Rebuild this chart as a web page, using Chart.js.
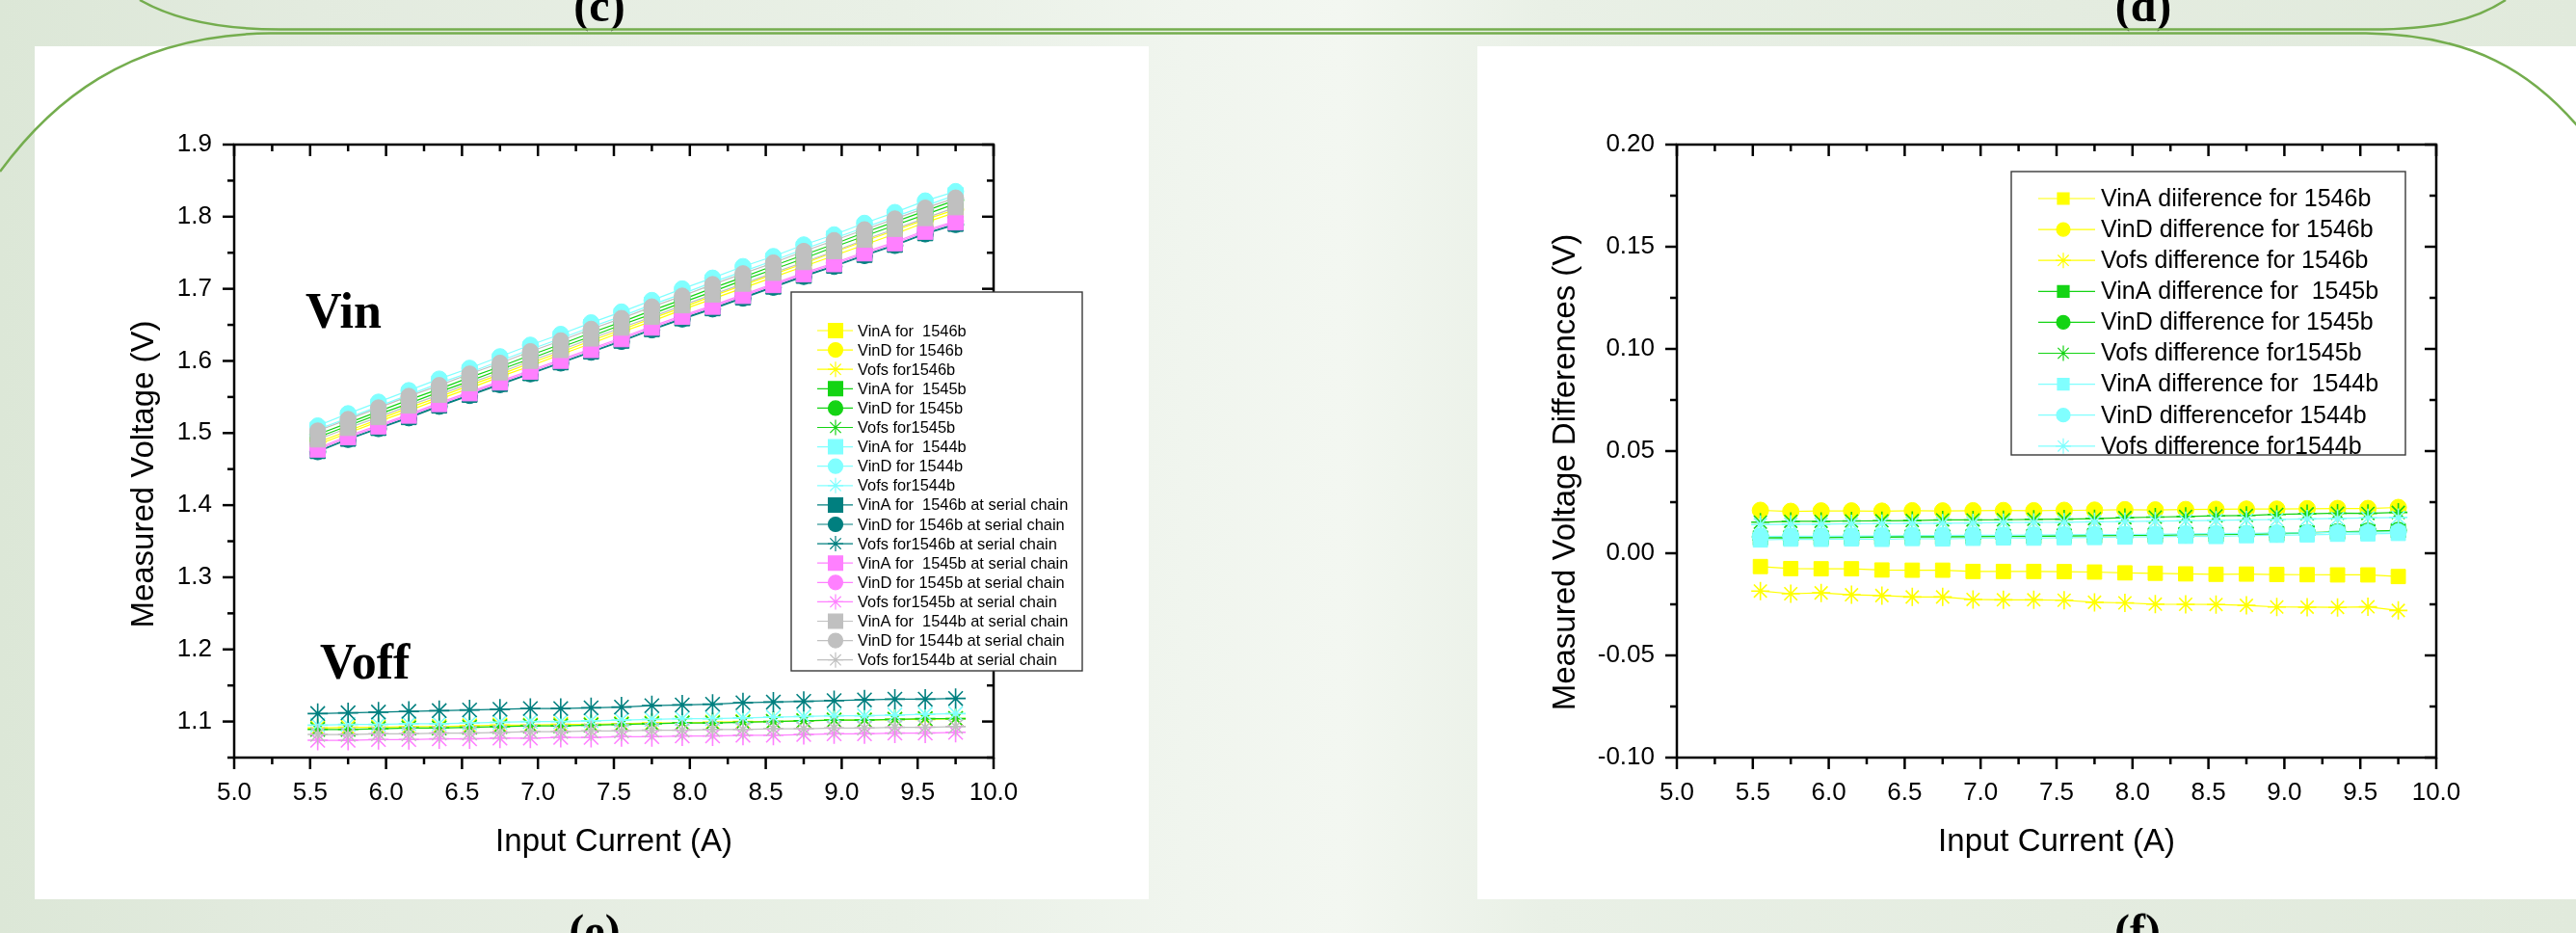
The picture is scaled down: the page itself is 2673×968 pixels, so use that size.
<!DOCTYPE html>
<html><head><meta charset="utf-8">
<script src="https://cdn.jsdelivr.net/npm/chart.js@4.4.1/dist/chart.umd.min.js"></script>
<style>
html,body{margin:0;padding:0;width:2673px;height:968px;overflow:hidden;}
body{position:relative;background:linear-gradient(90deg,#dce7d7 0%,#e3ebdf 12%,#e9f0e6 35%,#f0f5ee 46%,#f3f7f1 52%,#e9f0e6 60%,#e4ece0 80%,#e1eadc 100%);}
.panel{position:absolute;background:#fff;}
svg.deco{position:absolute;left:0;top:0;pointer-events:none;}
</style></head>
<body>
<div class="panel" style="left:36px;top:48px;width:1156px;height:885px;"><canvas id="c1" width="1156" height="885"></canvas></div>
<div class="panel" style="left:1533px;top:48px;width:1140px;height:885px;"><canvas id="c2" width="1140" height="885"></canvas></div>
<svg class="deco" width="2673" height="968" viewBox="0 0 2673 968">
  <g font-family="'Liberation Serif','Times New Roman',serif" font-weight="bold" font-size="48" fill="#000" text-anchor="middle">
    <text x="622" y="22">(c)</text>
    <text x="2224" y="22">(d)</text>
    <text x="617" y="982">(e)</text>
    <text x="2218" y="982">(f)</text>
  </g>
  <g fill="none" stroke="#74ad4e" stroke-width="2.5">
    <path d="M 145 0 C 180 20, 225 30.5, 290 30.5 L 2460 30.5 C 2530 30.5, 2570 20, 2600 0"/>
    <path d="M 0 178 C 50 110, 130 36, 280 34.5 L 2455 34.5 C 2560 36, 2630 70, 2690 150"/>
  </g>
</svg>
<script>
// ---------- data ----------
const current = [5.55,5.75,5.95,6.15,6.35,6.55,6.75,6.95,7.15,7.35,7.55,7.75,7.95,8.15,8.35,8.55,8.75,8.95,9.15,9.35,9.55,9.75];

const xTicks = [5.0,5.5,6.0,6.5,7.0,7.5,8.0,8.5,9.0,9.5,10.0];
const xMinorTicks = [5.25,5.75,6.25,6.75,7.25,7.75,8.25,8.75,9.25,9.75];
const yTicksLeft = [1.1,1.2,1.3,1.4,1.5,1.6,1.7,1.8,1.9];
const yMinorLeft = [1.05,1.15,1.25,1.35,1.45,1.55,1.65,1.75,1.85];
const yTicksRight = [-0.10,-0.05,0.00,0.05,0.10,0.15,0.20];
const yMinorRight = [-0.075,-0.025,0.025,0.075,0.125,0.175];

// left panel: measured voltages
const vinA1546 = [1.484,1.500,1.516,1.531,1.547,1.562,1.578,1.593,1.609,1.624,1.640,1.655,1.671,1.686,1.701,1.716,1.731,1.746,1.761,1.776,1.792,1.806];
const vinD1546 = [1.487,1.503,1.519,1.535,1.550,1.566,1.581,1.597,1.612,1.628,1.643,1.659,1.674,1.690,1.705,1.720,1.735,1.751,1.766,1.781,1.796,1.810];
const vofs1546 = [1.091,1.092,1.092,1.093,1.093,1.094,1.095,1.095,1.096,1.096,1.097,1.098,1.098,1.099,1.100,1.100,1.101,1.102,1.102,1.103,1.103,1.104];
const vinA1545 = [1.494,1.510,1.526,1.541,1.557,1.572,1.588,1.603,1.619,1.634,1.650,1.665,1.681,1.696,1.712,1.727,1.742,1.758,1.773,1.788,1.803,1.818];
const vinD1545 = [1.498,1.514,1.530,1.546,1.561,1.577,1.592,1.608,1.623,1.639,1.654,1.670,1.685,1.701,1.716,1.732,1.747,1.762,1.778,1.793,1.808,1.823];
const vofs1545 = [1.089,1.089,1.090,1.091,1.091,1.092,1.093,1.094,1.094,1.095,1.096,1.097,1.098,1.098,1.099,1.100,1.101,1.102,1.102,1.103,1.104,1.104];
const vinA1544 = [1.505,1.521,1.537,1.553,1.569,1.584,1.600,1.616,1.631,1.647,1.662,1.678,1.693,1.709,1.724,1.739,1.755,1.770,1.785,1.800,1.815,1.830];
const vinD1544 = [1.510,1.527,1.543,1.559,1.575,1.590,1.606,1.622,1.637,1.653,1.668,1.684,1.700,1.715,1.731,1.745,1.761,1.775,1.791,1.806,1.822,1.835];
const vofs1544 = [1.095,1.096,1.096,1.097,1.097,1.098,1.099,1.100,1.100,1.101,1.102,1.103,1.104,1.104,1.105,1.106,1.107,1.108,1.108,1.109,1.110,1.111];
const vinA1546s = [1.475,1.492,1.507,1.522,1.538,1.553,1.568,1.583,1.598,1.613,1.628,1.644,1.659,1.673,1.688,1.703,1.718,1.732,1.747,1.761,1.777,1.790];
const vinD1546s = [1.474,1.491,1.506,1.521,1.537,1.552,1.567,1.582,1.597,1.612,1.627,1.643,1.658,1.672,1.687,1.702,1.717,1.731,1.746,1.760,1.776,1.789];
const vofs1546s = [1.111,1.112,1.113,1.114,1.115,1.116,1.117,1.118,1.118,1.119,1.120,1.122,1.123,1.124,1.126,1.127,1.128,1.129,1.130,1.131,1.131,1.132];
const vinA1545s = [1.477,1.494,1.509,1.524,1.540,1.555,1.570,1.585,1.600,1.615,1.630,1.646,1.661,1.675,1.690,1.705,1.720,1.734,1.749,1.763,1.779,1.792];
const vinD1545s = [1.479,1.496,1.511,1.526,1.542,1.557,1.572,1.587,1.602,1.617,1.632,1.648,1.663,1.677,1.692,1.707,1.722,1.736,1.751,1.765,1.781,1.794];
const vofs1545s = [1.074,1.074,1.075,1.075,1.076,1.076,1.077,1.077,1.078,1.078,1.079,1.079,1.080,1.080,1.081,1.081,1.082,1.083,1.083,1.084,1.084,1.085];
const vinA1544s = [1.491,1.507,1.522,1.538,1.553,1.569,1.584,1.600,1.615,1.631,1.646,1.661,1.677,1.692,1.707,1.722,1.737,1.752,1.768,1.783,1.798,1.813];
const vinD1544s = [1.503,1.519,1.535,1.551,1.566,1.582,1.597,1.613,1.628,1.644,1.659,1.675,1.690,1.706,1.721,1.736,1.752,1.767,1.782,1.797,1.812,1.826];
const vofs1544s = [1.082,1.082,1.083,1.083,1.084,1.084,1.085,1.086,1.086,1.087,1.087,1.088,1.088,1.089,1.089,1.090,1.090,1.091,1.091,1.092,1.092,1.093];

// right panel: differences
const dVinA1546 = [-0.0065,-0.0075,-0.0076,-0.0076,-0.0082,-0.0083,-0.0083,-0.0089,-0.0089,-0.0089,-0.0090,-0.0092,-0.0096,-0.0098,-0.0101,-0.0103,-0.0102,-0.0104,-0.0105,-0.0106,-0.0106,-0.0114];
const dVinD1546 = [0.0210,0.0205,0.0207,0.0207,0.0206,0.0208,0.0207,0.0208,0.0209,0.0208,0.0210,0.0211,0.0213,0.0212,0.0214,0.0215,0.0216,0.0216,0.0218,0.0219,0.0219,0.0224];
const dVofs1546 = [-0.0185,-0.0198,-0.0194,-0.0203,-0.0207,-0.0214,-0.0214,-0.0226,-0.0228,-0.0228,-0.0230,-0.0240,-0.0243,-0.0249,-0.0250,-0.0251,-0.0255,-0.0263,-0.0264,-0.0265,-0.0262,-0.0280];
const dVinA1545 = [0.0075,0.0075,0.0076,0.0077,0.0078,0.0079,0.0079,0.0081,0.0082,0.0082,0.0084,0.0085,0.0087,0.0088,0.0090,0.0091,0.0093,0.0095,0.0099,0.0103,0.0106,0.0110];
const dVinD1545 = [0.0080,0.0079,0.0080,0.0081,0.0082,0.0083,0.0083,0.0084,0.0085,0.0086,0.0087,0.0088,0.0089,0.0090,0.0092,0.0093,0.0095,0.0097,0.0101,0.0105,0.0108,0.0112];
const dVofs1545 = [0.0152,0.0156,0.0156,0.0158,0.0159,0.0160,0.0163,0.0163,0.0164,0.0166,0.0167,0.0169,0.0174,0.0177,0.0180,0.0183,0.0185,0.0190,0.0193,0.0196,0.0195,0.0200];
const dVinA1544 = [0.0065,0.0069,0.0068,0.0070,0.0068,0.0072,0.0070,0.0073,0.0075,0.0074,0.0076,0.0077,0.0079,0.0081,0.0083,0.0082,0.0086,0.0088,0.0090,0.0093,0.0095,0.0097];
const dVinD1544 = [0.0082,0.0083,0.0083,0.0084,0.0085,0.0086,0.0087,0.0088,0.0088,0.0089,0.0090,0.0091,0.0092,0.0093,0.0095,0.0096,0.0097,0.0099,0.0100,0.0102,0.0103,0.0105];
const dVofs1544 = [0.0140,0.0142,0.0142,0.0144,0.0145,0.0146,0.0147,0.0148,0.0150,0.0151,0.0152,0.0154,0.0155,0.0157,0.0159,0.0161,0.0163,0.0165,0.0168,0.0170,0.0173,0.0175];

// ---------- styles ----------
const YEL = '#ffff00', GRN = '#14d414', CYN = '#80ffff', TEAL = '#007f7f', PINK = '#ff80ff', GRAY = '#c0c0c0';

const leftSeries = [
  ['VinA for  1546b', vinA1546, YEL, 'rect'],
  ['VinD for 1546b', vinD1546, YEL, 'circle'],
  ['Vofs for1546b', vofs1546, YEL, 'star'],
  ['VinA for  1545b', vinA1545, GRN, 'rect'],
  ['VinD for 1545b', vinD1545, GRN, 'circle'],
  ['Vofs for1545b', vofs1545, GRN, 'star'],
  ['VinA for  1544b', vinA1544, CYN, 'rect'],
  ['VinD for 1544b', vinD1544, CYN, 'circle'],
  ['Vofs for1544b', vofs1544, CYN, 'star'],
  ['VinA for  1546b at serial chain', vinA1546s, TEAL, 'rect'],
  ['VinD for 1546b at serial chain', vinD1546s, TEAL, 'circle'],
  ['Vofs for1546b at serial chain', vofs1546s, TEAL, 'star'],
  ['VinA for  1545b at serial chain', vinA1545s, PINK, 'rect'],
  ['VinD for 1545b at serial chain', vinD1545s, PINK, 'circle'],
  ['Vofs for1545b at serial chain', vofs1545s, PINK, 'star'],
  ['VinA for  1544b at serial chain', vinA1544s, GRAY, 'rect'],
  ['VinD for 1544b at serial chain', vinD1544s, GRAY, 'circle'],
  ['Vofs for1544b at serial chain', vofs1544s, GRAY, 'star']
];
const rightSeries = [
  ['VinA diiference for 1546b', dVinA1546, YEL, 'rect'],
  ['VinD difference for 1546b', dVinD1546, YEL, 'circle'],
  ['Vofs difference for 1546b', dVofs1546, YEL, 'star'],
  ['VinA difference for  1545b', dVinA1545, GRN, 'rect'],
  ['VinD difference for 1545b', dVinD1545, GRN, 'circle'],
  ['Vofs difference for1545b', dVofs1545, GRN, 'star'],
  ['VinA difference for  1544b', dVinA1544, CYN, 'rect'],
  ['VinD differencefor 1544b', dVinD1544, CYN, 'circle'],
  ['Vofs difference for1544b', dVofs1544, CYN, 'star']
];

const FONT = "'Liberation Sans', Arial, Helvetica, sans-serif";

function makeDatasets(series, radii) {
  return series.map(([label, vals, color, marker], i) => ({
    label,
    data: current.map((x, k) => ({x, y: vals[k]})),
    borderColor: color,
    backgroundColor: color,
    pointBackgroundColor: color,
    pointBorderColor: color,
    borderWidth: 1.2,
    pointStyle: marker,
    pointRadius: radii[marker],
    pointBorderWidth: marker === 'star' ? 1.6 : 1,
    pointHoverRadius: radii[marker],
    tension: 0,
    order: -i,
    _marker: marker
  }));
}

const framePlugin = {
  id: 'frame',
  afterDatasetsDraw(chart) {
    const o = chart.options.plugins.frame;
    const {ctx, chartArea: a} = chart;
    const xs = chart.scales.x, ys = chart.scales.y;
    ctx.save();
    ctx.strokeStyle = '#000';
    ctx.lineWidth = 2.5;
    ctx.lineCap = 'butt';
    const seg = (x1, y1, x2, y2) => { ctx.beginPath(); ctx.moveTo(x1, y1); ctx.lineTo(x2, y2); ctx.stroke(); };
    const MAJ = 12, MIN = 7;
    o.xMajor.forEach(v => { const p = xs.getPixelForValue(v); seg(p, a.bottom, p, a.bottom + MAJ); seg(p, a.top, p, a.top + MAJ); });
    o.xMinor.forEach(v => { const p = xs.getPixelForValue(v); seg(p, a.bottom, p, a.bottom + MIN); seg(p, a.top, p, a.top + MIN); });
    o.yMajor.forEach(v => { const p = ys.getPixelForValue(v); seg(a.left - MAJ, p, a.left, p); seg(a.right - MAJ, p, a.right, p); });
    o.yMinor.forEach(v => { const p = ys.getPixelForValue(v); seg(a.left - MIN, p, a.left, p); seg(a.right - MIN, p, a.right, p); });
    ctx.strokeRect(a.left, a.top, a.right - a.left, a.bottom - a.top);
    // axis titles
    ctx.fillStyle = '#000';
    ctx.font = '33px ' + FONT;
    ctx.textAlign = 'center';
    ctx.textBaseline = 'middle';
    ctx.fillText(o.xTitle, (a.left + a.right) / 2, o.xTitleY);
    ctx.save();
    ctx.translate(o.yTitleX, o.yTitleY);
    ctx.rotate(-Math.PI / 2);
    ctx.fillText(o.yTitle, 0, 0);
    ctx.restore();
    // free text notes
    (o.notes || []).forEach(n => {
      ctx.font = n.font; ctx.textAlign = 'left'; ctx.textBaseline = 'alphabetic';
      ctx.fillText(n.text, n.x, n.y);
    });
    ctx.restore();
  },
  afterDraw(chart) {
    const L = chart.options.plugins.frame.legend;
    const {ctx} = chart;
    ctx.save();
    ctx.fillStyle = '#fff';
    ctx.fillRect(L.x, L.y, L.w, L.h);
    ctx.strokeStyle = '#3a3a3a';
    ctx.lineWidth = 1.4;
    ctx.strokeRect(L.x, L.y, L.w, L.h);
    chart.data.datasets.forEach((ds, i) => {
      const cy = L.first + i * L.step;
      ctx.strokeStyle = ds.borderColor;
      ctx.lineWidth = 1.2;
      ctx.beginPath(); ctx.moveTo(L.lineX1, cy); ctx.lineTo(L.lineX2, cy); ctx.stroke();
      ctx.fillStyle = ds.pointBackgroundColor;
      ctx.strokeStyle = ds.pointBorderColor;
      Chart.helpers.drawPoint(ctx, {pointStyle: ds.pointStyle, rotation: 0, radius: L.radii[ds._marker], borderWidth: ds._marker === 'star' ? 1.4 : 1}, L.markX, cy);
      ctx.fillStyle = '#000';
      ctx.font = L.font;
      ctx.textAlign = 'left';
      ctx.textBaseline = 'middle';
      ctx.fillText(ds.label, L.textX, cy + 1);
    });
    ctx.restore();
  }
};

function makeChart(id, series, radii, yMin, yMax, yTicks, yMinor, yDigits, padRight, frameOpts) {
  return new Chart(document.getElementById(id), {
    type: 'line',
    data: {datasets: makeDatasets(series, radii)},
    options: {
      responsive: false,
      animation: false,
      devicePixelRatio: 1,
      layout: {padding: {left: 0, right: padRight, top: 102, bottom: 0}},
      plugins: {legend: {display: false}, tooltip: {enabled: false}, frame: frameOpts},
      scales: {
        x: {
          type: 'linear', min: 5, max: 10,
          afterBuildTicks: s => { s.ticks = xTicks.map(v => ({value: v})); },
          afterFit: s => { s.height = 147; },
          grid: {display: false, drawTicks: false},
          border: {display: false},
          ticks: {padding: 21, color: '#000', font: {family: FONT, size: 26}, maxRotation: 0, autoSkip: false, callback: v => Number(v).toFixed(1)}
        },
        y: {
          type: 'linear', min: yMin, max: yMax,
          afterBuildTicks: s => { s.ticks = yTicks.map(v => ({value: v})); },
          afterFit: s => { s.width = 207; },
          grid: {display: false, drawTicks: false},
          border: {display: false},
          ticks: {padding: 23, color: '#000', font: {family: FONT, size: 26}, autoSkip: false, callback: v => Number(v).toFixed(yDigits)}
        }
      }
    },
    plugins: [framePlugin]
  });
}

makeChart('c1', leftSeries, {rect: 11, circle: 8.3, star: 10.5}, 1.05, 1.9, yTicksLeft, yMinorLeft, 1, 161, {
  xMajor: xTicks, xMinor: xMinorTicks, yMajor: yTicksLeft, yMinor: yMinorLeft,
  xTitle: 'Input Current (A)', xTitleY: 826,
  yTitle: 'Measured Voltage (V)', yTitleX: 114, yTitleY: 444,
  notes: [
    {text: 'Vin', x: 281, y: 292, font: "bold 52px 'Liberation Serif', 'Times New Roman', serif"},
    {text: 'Voff', x: 296, y: 656, font: "bold 52px 'Liberation Serif', 'Times New Roman', serif"}
  ],
  legend: {x: 785, y: 255, w: 302, h: 393, first: 295, step: 20.1, lineX1: 812, lineX2: 849, markX: 831, textX: 854,
           font: '16.4px ' + FONT, radii: {rect: 10.5, circle: 7.5, star: 8}}
});

makeChart('c2', rightSeries, {rect: 10.5, circle: 8.5, star: 9.5}, -0.1, 0.2, yTicksRight, yMinorRight, 2, 145, {
  xMajor: xTicks, xMinor: xMinorTicks, yMajor: yTicksRight, yMinor: yMinorRight,
  xTitle: 'Input Current (A)', xTitleY: 826,
  yTitle: 'Measured Voltage Differences (V)', yTitleX: 92, yTitleY: 442,
  notes: [],
  legend: {x: 554, y: 130, w: 409, h: 294, first: 158, step: 32.1, lineX1: 582, lineX2: 641, markX: 608, textX: 647,
           font: '25px ' + FONT, radii: {rect: 8.5, circle: 7, star: 8}}
});
</script>
</body></html>
